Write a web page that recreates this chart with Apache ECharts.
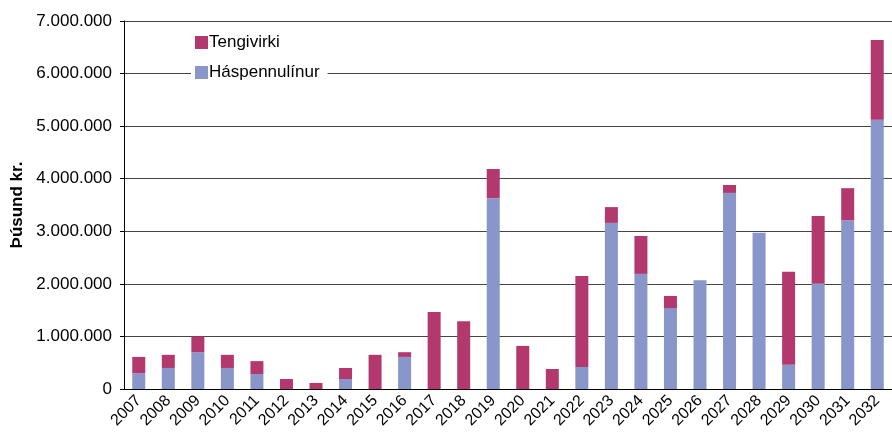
<!DOCTYPE html>
<html>
<head>
<meta charset="utf-8">
<script src="https://cdn.jsdelivr.net/npm/echarts@6/dist/echarts.min.js"></script>
<style>
  html, body { margin: 0; padding: 0; background: #fff; }
  #chart { width: 892px; height: 443px; }
</style>
</head>
<body>
<div id="chart"></div>
<script>
    // ár
    var years = ['2007','2008','2009','2010','2011','2012','2013','2014','2015','2016','2017','2018','2019',
                 '2020','2021','2022','2023','2024','2025','2026','2027','2028','2029','2030','2031','2032']
    // Háspennulínur (neðri hluti)
    var haspenna = [300000, 400000, 700000, 400000, 285000, 0, 0, 190000, 0, 610000, 0, 0, 3630000,
                    0, 0, 420000, 3160000, 2190000, 1540000, 2070000, 3730000, 2970000, 460000, 2000000, 3210000, 5120000]
    // Tengivirki (efri hluti)
    var tengivirki = [310000, 250000, 300000, 250000, 245000, 190000, 115000, 210000, 650000, 90000, 1465000, 1290000, 555000,
                      820000, 380000, 1730000, 300000, 720000, 230000, 0, 150000, 0, 1770000, 1290000, 610000, 1520000]
    var yTicks = [0, 1000000, 2000000, 3000000, 4000000, 5000000, 6000000, 7000000]

    function fmt(v) {
        return String(v).replace(/\B(?=(\d{3})+(?!\d))/g, '.')
    }

    var chart = echarts.init(document.getElementById('chart'))
    chart.setOption({
        animation: false,
        textStyle: { fontFamily: 'Liberation Sans, Arial, sans-serif' },
        grid: { left: 124, top: 21, right: -7, bottom: 54 },
        legend: {
            orient: 'vertical',
            left: 191,
            top: 32,
            icon: 'rect',
            itemWidth: 13,
            itemHeight: 13,
            itemGap: 13,
            padding: [2, 8, 2, 4],
            backgroundColor: '#fff',
            textStyle: { fontSize: 17, color: '#000', padding: [0, 0, 0, -4] },
            data: ['Tengivirki', 'Háspennulínur']
        },
        xAxis: {
            type: 'category',
            data: years,
            axisLine: { lineStyle: { color: '#000', width: 1 } },
            axisTick: { length: 5, lineStyle: { color: '#000' } },
            axisLabel: { rotate: 45, margin: 9, fontSize: 16, color: '#000', interval: 0 }
        },
        yAxis: {
            type: 'value',
            min: yTicks[0],
            max: yTicks[yTicks.length - 1],
            interval: 1000000,
            name: 'Þúsund kr.',
            nameLocation: 'middle',
            nameGap: 97,
            nameTextStyle: { fontSize: 17, fontWeight: 'bold', color: '#000' },
            axisLine: { show: true, lineStyle: { color: '#000' } },
            axisTick: { show: true, length: 4, lineStyle: { color: '#000' } },
            axisLabel: { fontSize: 17, color: '#000', margin: 12, formatter: fmt },
            splitLine: { lineStyle: { color: '#444', width: 1 } }
        },
        series: [
            {
                name: 'Háspennulínur',
                type: 'bar',
                stack: 'a',
                barWidth: '44%',
                itemStyle: { color: '#8896CA' },
                data: haspenna
            },
            {
                name: 'Tengivirki',
                type: 'bar',
                stack: 'a',
                barWidth: '44%',
                itemStyle: { color: '#B3386E' },
                data: tengivirki
            }
        ]
    })
</script>
</body>
</html>
